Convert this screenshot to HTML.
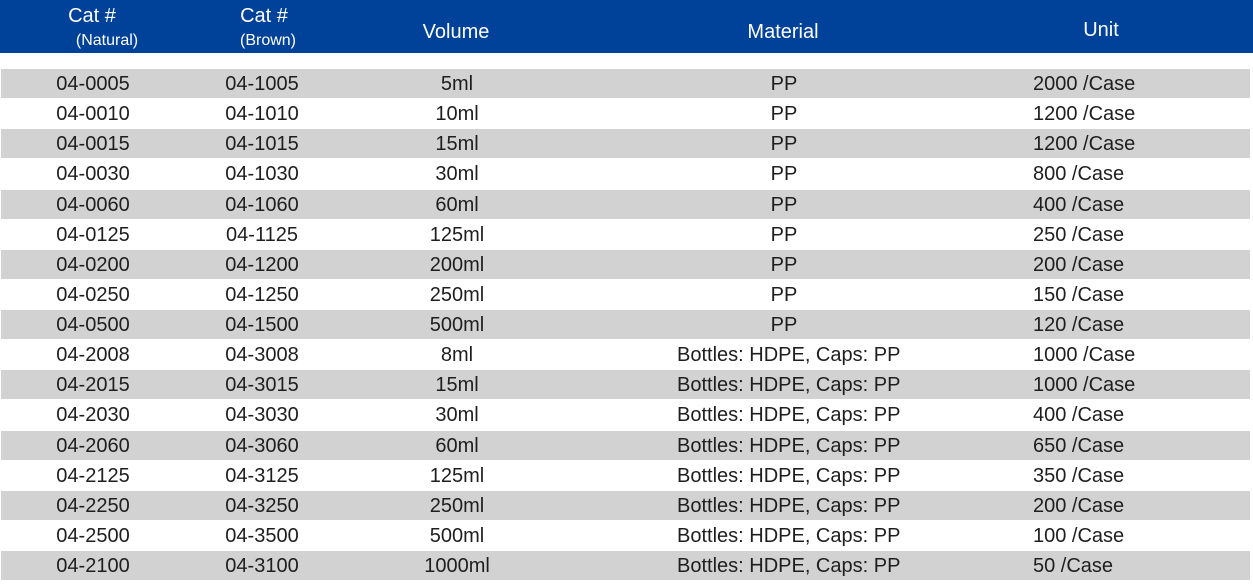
<!DOCTYPE html>
<html><head><style>
body{margin:0;width:1253px;height:584px;background:#fff;position:relative;overflow:hidden;font-family:"Liberation Sans",sans-serif;color:#1e1e1e}
.hd{position:absolute;left:0;top:0;width:1253px;height:53px;background:#00419a}
.h{position:absolute;color:#fff;transform:translateX(-50%);white-space:nowrap}
.r{position:absolute;left:1px;width:1249px;height:29px}
.g{background:#d2d2d2}
.c{position:absolute;font-size:20px;white-space:nowrap;top:4px}
.ctr{transform:translateX(-50%)}
</style></head><body>
<div class="hd"></div>
<div class="h" style="left:92px;top:5px;font-size:20px">Cat #</div>
<div class="h" style="left:107px;top:32px;font-size:16px">(Natural)</div>
<div class="h" style="left:264px;top:5px;font-size:20px">Cat #</div>
<div class="h" style="left:268px;top:32px;font-size:16px">(Brown)</div>
<div class="h" style="left:456px;top:21px;font-size:20px">Volume</div>
<div class="h" style="left:783px;top:21px;font-size:20px">Material</div>
<div class="h" style="left:1101px;top:19px;font-size:20px">Unit</div>
<div id="rows"></div>
<script>
var d=[["04-0005","04-1005","5ml","PP","2000 /Case"],["04-0010","04-1010","10ml","PP","1200 /Case"],["04-0015","04-1015","15ml","PP","1200 /Case"],["04-0030","04-1030","30ml","PP","800 /Case"],["04-0060","04-1060","60ml","PP","400 /Case"],["04-0125","04-1125","125ml","PP","250 /Case"],["04-0200","04-1200","200ml","PP","200 /Case"],["04-0250","04-1250","250ml","PP","150 /Case"],["04-0500","04-1500","500ml","PP","120 /Case"],["04-2008","04-3008","8ml","B","1000 /Case"],["04-2015","04-3015","15ml","B","1000 /Case"],["04-2030","04-3030","30ml","B","400 /Case"],["04-2060","04-3060","60ml","B","650 /Case"],["04-2125","04-3125","125ml","B","350 /Case"],["04-2250","04-3250","250ml","B","200 /Case"],["04-2500","04-3500","500ml","B","100 /Case"],["04-2100","04-3100","1000ml","B","50 /Case"]];
var h="";
d.forEach(function(r,i){var y=69+i*30.13;
h+='<div class="r'+(i%2==0?' g':'')+'" style="top:'+y+'px">';
h+='<span class="c ctr" style="left:92px">'+r[0]+'</span>';
h+='<span class="c ctr" style="left:261px">'+r[1]+'</span>';
h+='<span class="c ctr" style="left:456px">'+r[2]+'</span>';
if(r[3]=="PP")h+='<span class="c ctr" style="left:783px">PP</span>';
else h+='<span class="c" style="left:676px">Bottles: HDPE, Caps: PP</span>';
h+='<span class="c" style="left:1032px">'+r[4]+'</span></div>';});
document.getElementById("rows").innerHTML=h;
</script>
</body></html>
